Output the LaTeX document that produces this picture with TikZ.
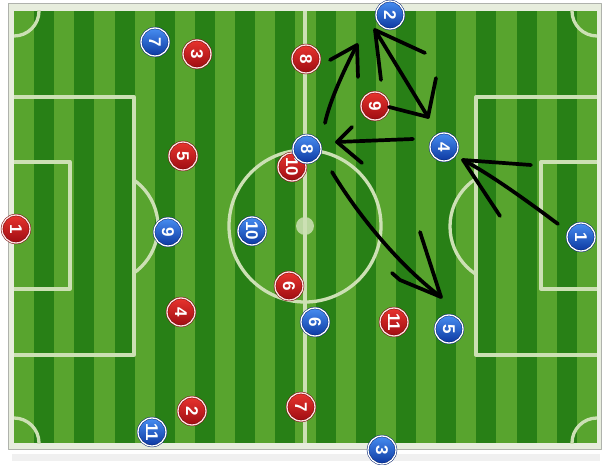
\documentclass[tikz,border=0pt]{standalone}
\usepackage{fontspec}
\setmainfont{Liberation Sans}
\usepackage{graphicx}
\usetikzlibrary{shadows}
\definecolor{grassdark}{RGB}{40,128,22}
\definecolor{grasslight}{RGB}{88,164,46}
\definecolor{chalkline}{RGB}{204,224,180}
\definecolor{paleframe}{RGB}{231,237,221}
\definecolor{framegray}{RGB}{175,178,172}
\definecolor{bluetop}{RGB}{72,142,242}
\definecolor{bluebottom}{RGB}{12,56,160}
\definecolor{blueedge}{RGB}{10,38,115}
\definecolor{redtop}{RGB}{232,52,46}
\definecolor{redbottom}{RGB}{158,12,18}
\definecolor{rededge}{RGB}{115,10,10}

\begin{document}
\begin{tikzpicture}[x=1pt, y=-1pt, line join=round, chalk/.style={draw=chalkline, line width=3.3pt},]
   \tikzstyle{player}=[circle, minimum size=28pt, inner sep=0pt, line width=.5pt, double distance=1.3pt, text=white, font=\fontsize{17}{17}\selectfont\bfseries, drop shadow={shadow xshift=.5pt, shadow yshift=-1pt, opacity=.35}]
   \tikzstyle{redteam}=[player, draw=rededge, double=white!88!red, top color=redtop, bottom color=redbottom]
   \tikzstyle{blueteam}=[player, draw=blueedge, double=white, top color=bluetop, bottom color=bluebottom]
   \tikzstyle{scribble}=[draw=black, line width=3.7pt, line cap=round, line join=round]

   \useasboundingbox (0,0) rectangle (603,465);
   \fill[white] (0,0) rectangle (603,465);
   \fill[black!6] (12,454) rectangle (600,461);
   \fill[paleframe] (8,3) rectangle (601,449);
   \draw[framegray, line width=.8pt] (8,3) rectangle (601,449);

   % grass
   \fill[grasslight] (14,11) rectangle (597,443);
   \foreach \i in {1,3,...,27}
     \fill[grassdark] ({14+\i*20.1034},11) rectangle ({14+(\i+1)*20.1034},443);

   % markings
   \begin{scope}
     \clip (14,11) rectangle (597,443);
     \draw[chalk] (305,11) -- (305,443);
     \draw[chalk] (305,226) circle (76);
     \fill[chalkline, opacity=.85] (305,226) circle (9);
     \draw[chalk] (14,97) -- (134,97) -- (134,355) -- (14,355);
     \draw[chalk] (14,162) -- (70,162) -- (70,289) -- (14,289);
     \draw[chalk] (597,97) -- (476,97) -- (476,355) -- (597,355);
     \draw[chalk] (597,162) -- (541,162) -- (541,289) -- (597,289);
     \draw[chalk] (14,11) circle (25);
     \draw[chalk] (597,11) circle (25);
     \draw[chalk] (14,443) circle (25);
     \draw[chalk] (597,443) circle (25);
   \end{scope}
   \begin{scope}
     \clip (134,11) rectangle (476,443);
     \draw[chalk] (101,226.5) circle (57);
     \draw[chalk] (507,226.5) circle (57);
   \end{scope}

   % red side
   \node[redteam] (red_1) at (16,229) {\rotatebox{-90}{1}};
   \node[redteam] (red_2) at (192,411) {\rotatebox{-90}{2}};
   \node[redteam] (red_3) at (197,54) {\rotatebox{-90}{3}};
   \node[redteam] (red_4) at (181,312) {\rotatebox{-90}{4}};
   \node[redteam] (red_5) at (183,156) {\rotatebox{-90}{5}};
   \node[redteam] (red_6) at (289,286) {\rotatebox{-90}{6}};
   \node[redteam] (red_7) at (301,407) {\rotatebox{-90}{7}};
   \node[redteam] (red_8) at (306,59) {\rotatebox{-90}{8}};
   \node[redteam] (red_9) at (375,106) {\rotatebox{-90}{9}};
   \node[redteam] (red_10) at (292,167) {\rotatebox{-90}{10}};
   \node[redteam] (red_11) at (394,322) {\rotatebox{-90}{11}};

   % blue side
   \node[blueteam] (blue_1) at (581,237) {\rotatebox{-90}{1}};
   \node[blueteam] (blue_2) at (390,15) {\rotatebox{-90}{2}};
   \node[blueteam] (blue_3) at (382,450) {\rotatebox{-90}{3}};
   \node[blueteam] (blue_4) at (444,147) {\rotatebox{-90}{4}};
   \node[blueteam] (blue_5) at (449,329) {\rotatebox{-90}{5}};
   \node[blueteam] (blue_6) at (315,322) {\rotatebox{-90}{6}};
   \node[blueteam] (blue_7) at (155,42) {\rotatebox{-90}{7}};
   \node[blueteam] (blue_8) at (307,149) {\rotatebox{-90}{8}};
   \node[blueteam] (blue_9) at (168,232) {\rotatebox{-90}{9}};
   \node[blueteam] (blue_10) at (252,231) {\rotatebox{-90}{10}};
   \node[blueteam] (blue_11) at (152,432) {\rotatebox{-90}{11}};

   % hand drawn arrows
   \coordinate (run_tail) at (325,123);
   \coordinate (run_tip) at (357,45);
   \coordinate (swap_top) at (375,30);
   \coordinate (swap_low) at (428,117);
   \coordinate (pass_tail) at (413,139);
   \coordinate (pass_tip) at (337,142);
   \coordinate (drop_tail) at (332,172);
   \coordinate (drop_tip) at (441,297);
   \coordinate (keeper_tail) at (558,224);
   \coordinate (keeper_tip) at (463,160);

   \draw[scribble] (run_tail) .. controls (330,100) and (344,70) .. (run_tip);
   \draw[scribble] (run_tip) ++(-27,15) -- (run_tip) -- ++(1,32);
   \draw[scribble] (swap_top) -- (swap_low);
   \draw[scribble] (swap_top) ++(6,50) -- (swap_top) -- ++(50,23);
   \draw[scribble] (swap_low) ++(-39,-10) -- (swap_low) -- ++(8,-39);
   \draw[scribble] (pass_tail) -- (pass_tip);
   \draw[scribble] (pass_tip) ++(15,-15) -- (pass_tip) -- ++(25,21);
   \draw[scribble] (drop_tail) .. controls (355,210) and (395,262) .. (drop_tip);
   \draw[scribble] (drop_tip) ++(-49,-24) -- ++(8,7) -- (drop_tip) -- ++(-21,-65);
   \draw[scribble] (keeper_tail) .. controls (530,203) and (490,174) .. (keeper_tip);
   \draw[scribble] (keeper_tip) ++(68,5) -- (keeper_tip) -- ++(37,56);
\end{tikzpicture}
\end{document}
